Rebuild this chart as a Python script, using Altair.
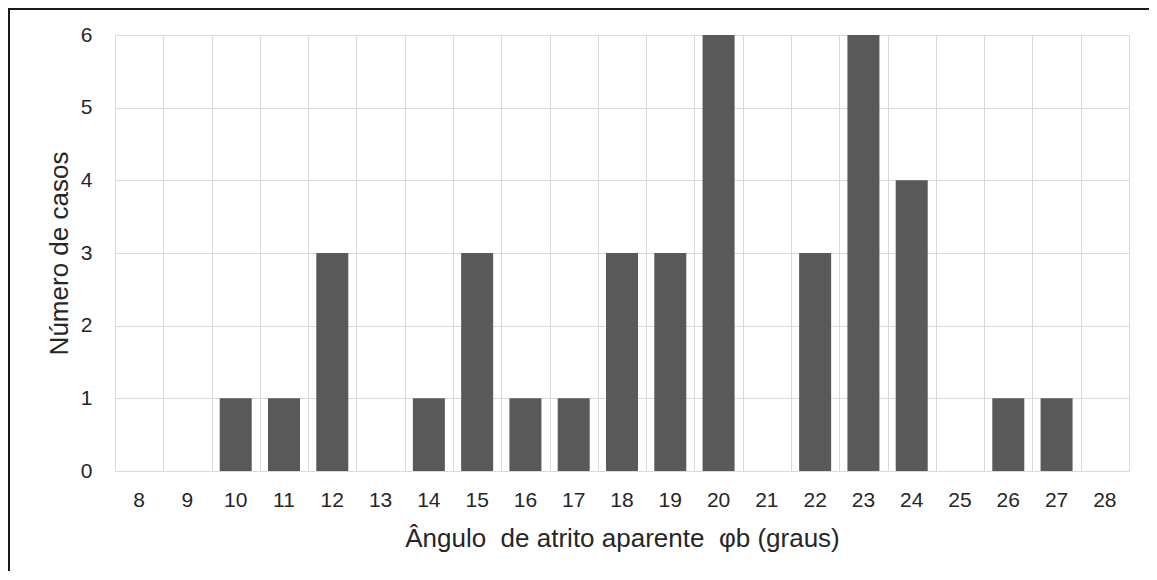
import altair as alt
import pandas as pd

angles = ["8", "9", "10", "11", "12", "13", "14", "15", "16", "17", "18",
          "19", "20", "21", "22", "23", "24", "25", "26", "27", "28"]
counts = [0, 0, 1, 1, 3, 0, 1, 3, 1, 1, 3, 3, 6, 0, 3, 6, 4, 0, 1, 1, 0]
y_ticks = [0, 1, 2, 3, 4, 5, 6]

df = pd.DataFrame({"angulo": angles, "casos": counts})

FONT = "Liberation Sans"
GRID = "#d9d9d9"
TXT = "#262626"

y_enc = alt.Y(
    "casos:Q",
    scale=alt.Scale(domain=[0, 6], nice=False),
    axis=alt.Axis(
        title="Número de casos",
        values=y_ticks,
        format="d",
        grid=True,
        gridColor=GRID,
        gridWidth=1,
        ticks=False,
        domain=False,
        labelPadding=23,
        labelFontSize=21,
        labelColor=TXT,
        labelFont=FONT,
        titleFont=FONT,
        titleFontSize=26,
        titleFontWeight="normal",
        titleColor=TXT,
        titleBaseline="alphabetic",
        titleX=-48,
        titleY=218,
    ),
)

# invisible layer whose band axis draws the vertical grid at category boundaries
grid_layer = alt.Chart(df).transform_calculate(g="datum.angulo").mark_bar(opacity=0).encode(
    x=alt.X(
        "g:N",
        sort=angles,
        scale=alt.Scale(paddingInner=0, paddingOuter=0),
        axis=alt.Axis(
            orient="bottom",
            grid=True,
            gridColor=GRID,
            gridWidth=1,
            tickBand="extent",
            ticks=False,
            labels=False,
            domain=False,
            title=None,
        ),
    ),
    y=y_enc,
)

bars = alt.Chart(df).mark_bar(color="#595959").encode(
    x=alt.X(
        "angulo:N",
        sort=angles,
        scale=alt.Scale(paddingInner=0.337, paddingOuter=0.1685),
        axis=alt.Axis(
            orient="bottom",
            title="Ângulo\u00a0 de atrito aparente\u00a0 φb (graus)",
            labelAngle=0,
            grid=False,
            ticks=False,
            domain=False,
            labelPadding=18,
            labelFontSize=21,
            labelColor=TXT,
            labelFont=FONT,
            titleFont=FONT,
            titleFontSize=26,
            titleFontWeight="normal",
            titleColor=TXT,
            titleBaseline="alphabetic",
            titleY=75,
        ),
    ),
    y=alt.Y("casos:Q"),
)

frame = alt.Chart(df).mark_rect(
    fill=None, stroke="#1a1a1a", strokeWidth=2, clip=False
).encode(
    x=alt.value(-106),
    x2=alt.value(1100),
    y=alt.value(-26),
    y2=alt.value(600),
)

chart = alt.layer(grid_layer, bars, frame).resolve_scale(
    x="independent"
).resolve_axis(x="independent").properties(
    width=1014,
    height=436,
    autosize=alt.AutoSizeParams(type="none"),
    padding={"left": 107, "top": 27, "right": 20, "bottom": 100},
).configure_view(stroke=GRID, strokeWidth=1).configure(background="white")

chart.save("out.html", embed_options={"renderer": "svg", "actions": False})
